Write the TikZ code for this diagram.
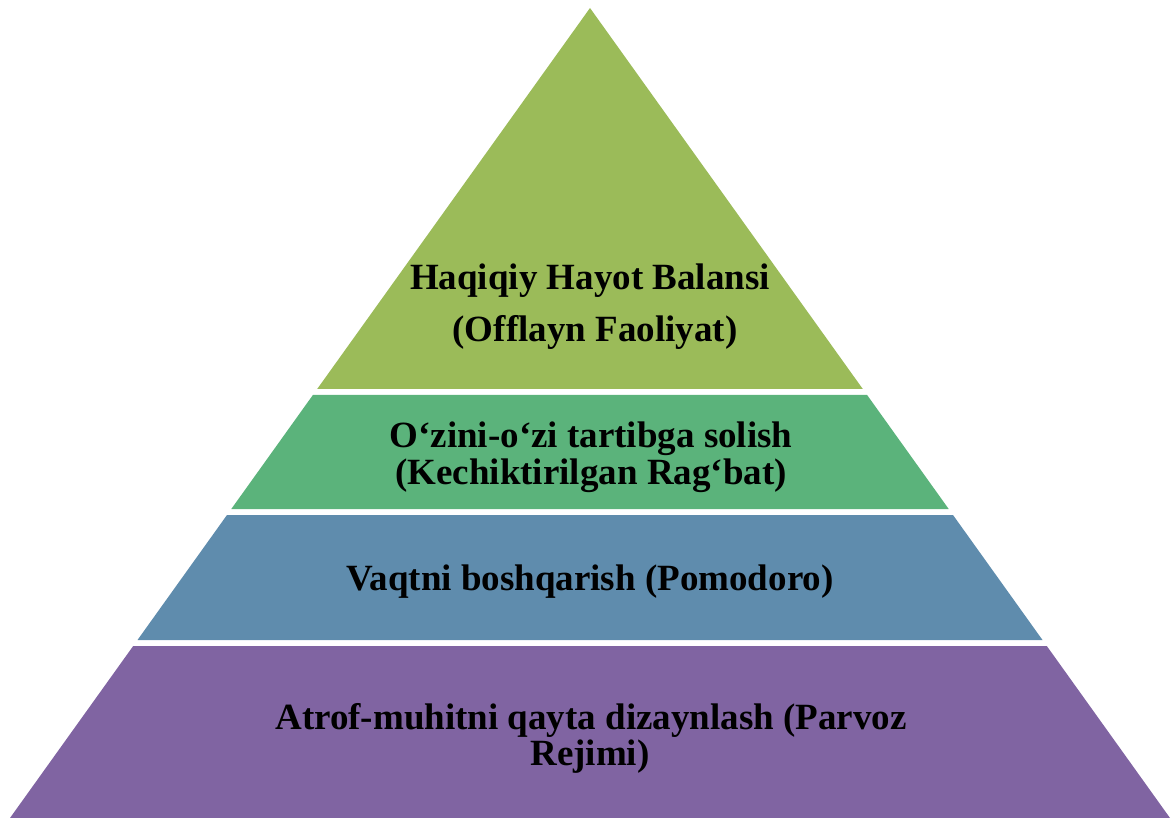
\documentclass[tikz,border=0pt]{standalone}
\usepackage{fontspec}
\setmainfont{Liberation Serif}
\definecolor{lvlA}{HTML}{9BBB59}
\definecolor{lvlB}{HTML}{5BB37B}
\definecolor{lvlC}{HTML}{5F8CAD}
\definecolor{lvlD}{HTML}{8064A2}
\tikzset{
  lbl/.style={anchor=base, inner sep=0pt, font=\fontsize{37}{37}\selectfont\bfseries, text=black},
}
\begin{document}
\begin{tikzpicture}[x=1pt,y=-1pt]
\useasboundingbox (0,0) rectangle (1171,818);
\fill[lvlA] (590,8) -- (862.8,389) -- (317.2,389) -- cycle;
\fill[lvlB] (312.9,395) -- (867.1,395) -- (948.7,509) -- (231.3,509) -- cycle;
\fill[lvlC] (227.0,515) -- (953.0,515) -- (1042.5,640) -- (137.5,640) -- cycle;
\fill[lvlD] (133.2,646) -- (1046.8,646) -- (1170,818) -- (10,818) -- cycle;
\node[lbl] (a1) at (590,290) {Haqiqiy Hayot Balansi};
\node[lbl] (a2) at (595,342) {(Offlayn Faoliyat)};
\node[lbl] (b1) at (591,448) {O‘zini-o‘zi tartibga solish};
\node[lbl] (b2) at (591,485) {(Kechiktirilgan Rag‘bat)};
\node[lbl] (c1) at (590,590) {Vaqtni boshqarish (Pomodoro)};
\node[lbl] (d1) at (591,729) {Atrof-muhitni qayta dizaynlash (Parvoz};
\node[lbl] (d2) at (590,765) {Rejimi)};
\end{tikzpicture}
\end{document}
